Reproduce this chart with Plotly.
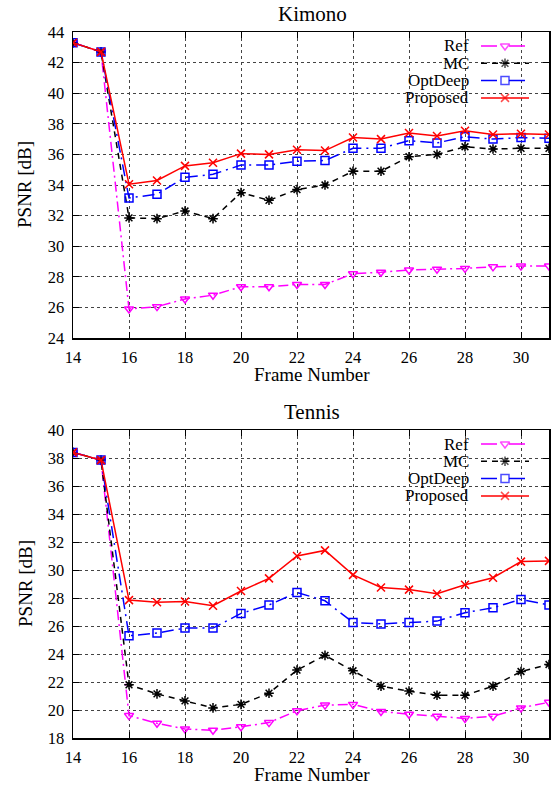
import plotly.graph_objects as go

frames = list(range(14, 32))
series_names = ["Ref", "MC", "OptDeep", "Proposed"]

kimono_ref = [43.3, 42.7, 25.9, 26.05, 26.55, 26.8, 27.35, 27.35, 27.5, 27.5, 28.2, 28.3, 28.45, 28.5, 28.55, 28.65, 28.7, 28.7]
kimono_mc = [43.3, 42.7, 31.85, 31.8, 32.3, 31.8, 33.5, 33.0, 33.7, 34.0, 34.9, 34.9, 35.85, 36.0, 36.5, 36.35, 36.4, 36.4]
kimono_optdeep = [43.3, 42.7, 33.15, 33.4, 34.5, 34.7, 35.3, 35.3, 35.55, 35.6, 36.4, 36.4, 36.9, 36.75, 37.15, 37.0, 37.1, 37.05]
kimono_proposed = [43.3, 42.7, 34.05, 34.3, 35.25, 35.45, 36.05, 36.0, 36.3, 36.25, 37.1, 37.0, 37.4, 37.2, 37.55, 37.3, 37.35, 37.3]

tennis_ref = [38.4, 37.85, 19.6, 19.05, 18.65, 18.55, 18.8, 19.1, 19.95, 20.35, 20.4, 19.9, 19.7, 19.55, 19.4, 19.55, 20.15, 20.55]
tennis_mc = [38.4, 37.85, 21.8, 21.15, 20.65, 20.15, 20.4, 21.2, 22.85, 23.9, 22.8, 21.7, 21.35, 21.05, 21.05, 21.7, 22.75, 23.25]
tennis_optdeep = [38.4, 37.85, 25.3, 25.5, 25.85, 25.85, 26.9, 27.5, 28.4, 27.8, 26.25, 26.15, 26.25, 26.35, 26.95, 27.3, 27.9, 27.5]
tennis_proposed = [38.4, 37.85, 27.85, 27.7, 27.75, 27.45, 28.5, 29.4, 31.0, 31.4, 29.65, 28.75, 28.6, 28.3, 28.95, 29.45, 30.6, 30.65]

x_ticks = list(range(14, 32, 2))
kimono_y_ticks = list(range(24, 45, 2))
tennis_y_ticks = list(range(18, 41, 2))

W, H = 554, 785
FONT = "Liberation Serif, Times New Roman, serif"


def fx(p):
    return p / W


def fy(p):
    return 1 - p / H


styles = {
    "Ref": dict(color="#ff00ff", dash="10px,4px,2px,4px", symbol="triangle-down-open"),
    "MC": dict(color="#000000", dash="6px,5px", symbol="asterisk-open"),
    "OptDeep": dict(color="#0000ff", dash="12px,5px,2px,5px", symbol="square-open"),
    "Proposed": dict(color="#ff0000", dash="solid", symbol="x-thin-open"),
}
leg_dash = {"Ref": "16px,12px", "MC": "6px,5px", "OptDeep": "16px,12px", "Proposed": "solid"}

panels = [
    ("Kimono", [kimono_ref, kimono_mc, kimono_optdeep, kimono_proposed], kimono_y_ticks, (32, 338), "x", "y"),
    ("Tennis", [tennis_ref, tennis_mc, tennis_optdeep, tennis_proposed], tennis_y_ticks, (430, 738), "x2", "y2"),
]

fig = go.Figure()
layout = dict(template="none", width=W, height=H, margin=dict(l=0, r=0, t=0, b=0, pad=0),
              autosize=False, hovermode=False,
              paper_bgcolor="white", plot_bgcolor="rgba(0,0,0,0)", showlegend=False,
              font=dict(family=FONT, size=16, color="black"))
annotations = []
x0p, x1p = 73, 549
cx = (x0p + x1p) / 2 + 1

for i, (title, data, yt, (ytop, ybot), xa, ya) in enumerate(panels):
    for name, vals in zip(series_names, data):
        st = styles[name]
        fig.add_trace(go.Scatter(
            x=frames, y=vals, xaxis=xa, yaxis=ya, mode="lines+markers", name=name,
            line=dict(color=st["color"], width=1.5, dash=st["dash"]),
            marker=dict(symbol=st["symbol"], size=8, color=st["color"],
                        line=dict(color=st["color"], width=1.5)),
        ))
    sfx = "" if i == 0 else "2"
    axcommon = dict(showline=True, linecolor="black", linewidth=1.5, mirror="ticks",
                    ticks="inside", ticklen=6, tickcolor="black", tickwidth=1,
                    showgrid=True, gridcolor="#444", griddash="dot", gridwidth=1,
                    zeroline=False, automargin=False,
                    tickfont=dict(family=FONT, size=16.5, color="black"))
    layout["xaxis" + sfx] = dict(axcommon, domain=[fx(x0p), fx(x1p)], range=[14, 31],
                                 tickvals=x_ticks, anchor="y" + sfx, ticklabelstandoff=4)
    layout["yaxis" + sfx] = dict(axcommon, domain=[fy(ybot), fy(ytop)], range=[yt[0], yt[-1]],
                                 tickvals=yt, anchor="x" + sfx, ticklabelstandoff=4)
    annotations.append(dict(text=title, x=fx(cx), y=fy(ytop - 18), xref="paper", yref="paper",
                            showarrow=False, font=dict(family=FONT, size=21), yanchor="middle"))
    annotations.append(dict(text="Frame Number", x=fx(cx), y=fy(ybot + 36), xref="paper", yref="paper",
                            showarrow=False, font=dict(family=FONT, size=19), yanchor="middle"))
    annotations.append(dict(text="PSNR [dB]", x=fx(25), y=fy((ytop + ybot) / 2), xref="paper",
                            yref="paper", showarrow=False, textangle=-90,
                            font=dict(family=FONT, size=19), xanchor="center", yanchor="middle"))
    row0 = ytop + 14
    for j, name in enumerate(series_names):
        st = styles[name]
        ry = row0 + j * 17.3
        annotations.append(dict(text=name, x=fx(471), y=fy(ry), xref="paper", yref="paper",
                                showarrow=False, xanchor="right", yanchor="middle",
                                font=dict(family=FONT, size=17)))
        fig.add_trace(go.Scatter(
            x=[481, 505, 529], y=[ry, ry, ry], xaxis="x3", yaxis="y3", mode="lines+markers",
            line=dict(color=st["color"], width=1.5, dash=leg_dash[name]),
            marker=dict(symbol=st["symbol"], size=[0, 8, 0], color=st["color"],
                        line=dict(color=st["color"], width=1.5)),
            hoverinfo="skip"))

layout["xaxis3"] = dict(domain=[0, 1], range=[0, W], visible=False, anchor="y3", automargin=False)
layout["yaxis3"] = dict(domain=[0, 1], range=[H, 0], visible=False, anchor="x3", automargin=False)
layout["annotations"] = annotations
fig.update_layout(**layout)
fig.write_html("out.html", config={"displayModeBar": False, "staticPlot": True},
               post_script="document.body.style.margin='0';document.body.style.overflow='hidden';")
